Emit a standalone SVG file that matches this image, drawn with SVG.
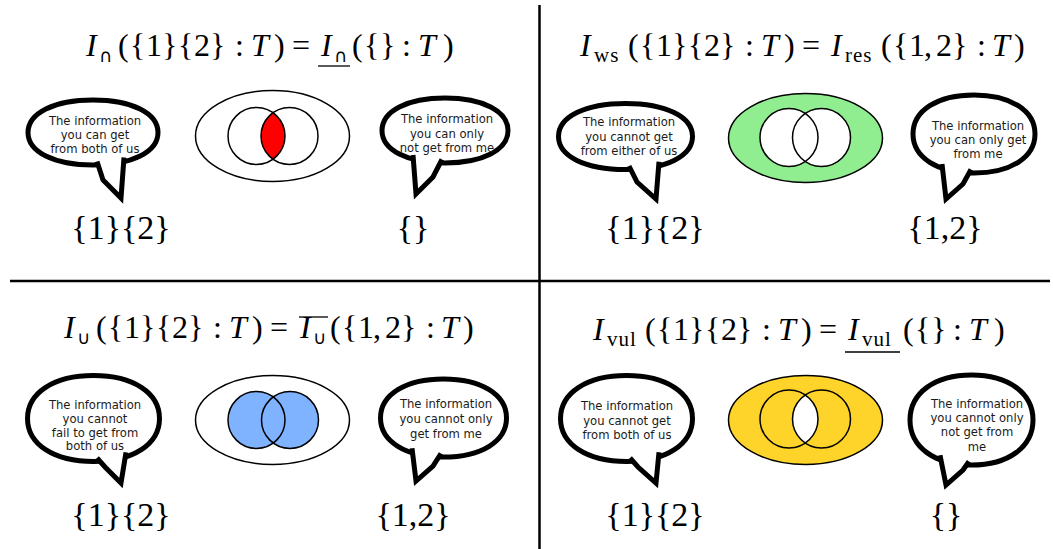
<svg xmlns="http://www.w3.org/2000/svg" width="1053" height="549" viewBox="0 0 1053 549">
<style>
.f{font-family:"Liberation Serif",serif;font-size:32px;fill:#000}
.i{font-style:italic}
.sb{font-size:21px}
.sym{font-family:"DejaVu Sans",sans-serif;font-size:18px}
.set{font-family:"Liberation Serif",serif;font-size:34px;text-anchor:middle;fill:#000}
.bt{font-family:"DejaVu Sans",sans-serif;font-size:11.6px;text-anchor:middle;fill:#1a1a1a}
.bub{fill:#fff;stroke:#000;stroke-width:5;stroke-linejoin:miter;stroke-miterlimit:6}
.ven{stroke:#000;stroke-width:1.5}
.nof{fill:none;stroke:#000;stroke-width:1.5}
.div{stroke:#000;stroke-width:2.5}
.ul{stroke:#000;stroke-width:1.3}
</style>
<g id="connectors">
<line class="div" x1="539.5" y1="5" x2="539.5" y2="549"/>
<line class="div" x1="10" y1="281" x2="1050" y2="281"/>
</g>

<!-- Top-left quadrant -->
<g id="formula-intersection">
<text class="f" y="56"><tspan class="i" x="86">I</tspan><tspan class="sym" x="99" y="62">∩</tspan><tspan x="118 130 146 162 178 194 210" y="56">({1}{2}</tspan><tspan x="235">:</tspan><tspan class="i" x="251">T</tspan><tspan x="274">)</tspan><tspan x="292">=</tspan><tspan class="i" x="321">I</tspan><tspan class="sym" x="334" y="62">∩</tspan><tspan x="352 364 380" y="56">({}</tspan><tspan x="402">:</tspan><tspan class="i" x="418">T</tspan><tspan x="443">)</tspan></text>
<line class="ul" x1="318" y1="66" x2="350" y2="66"/>
</g>
<g id="bubble-1">
<path class="bub" d="M28,132.5 C28,113 54,100 93,100 C132,100 158,113 158,132.5 C158,152 132,165 93,165 C54,165 28,152 28,132.5 Z"/>
<polyline class="bub" points="97,161.5 103,180 121,198 124,157.5"/>
<text class="bt" x="95" y="124.5">The information</text>
<text class="bt" x="95" y="139">you can get</text>
<text class="bt" x="95" y="153">from both of us</text>
</g>
<g id="venn-1">
<ellipse cx="272.5" cy="136" rx="77" ry="45.5" fill="#fff" class="ven"/>
<path d="M273,112.76 A28.5,28.5 0 0 1 273,159.24 A28.5,28.5 0 0 1 273,112.76 Z" fill="#ff0000"/>
<circle class="nof" cx="256.5" cy="136" r="28.5"/>
<circle class="nof" cx="289.5" cy="136" r="28.5"/>
</g>
<g id="bubble-2">
<path class="bub" d="M382,130.5 C382,111 407.2,98 445,98 C482.8,98 508,111 508,130.5 C508,150 482.8,163 445,163 C407.2,163 382,150 382,130.5 Z"/>
<polyline class="bub" points="413,155 416,194 433,177 442,159.5"/>
<text class="bt" x="447" y="123">The information</text>
<text class="bt" x="447" y="137.5">you can only</text>
<text class="bt" x="447" y="151.5">not get from me</text>
</g>
<g id="set-1"><text class="set" x="121" y="239">{1}{2}</text></g>
<g id="set-2"><text class="set" x="413" y="239">{}</text></g>

<!-- Top-right quadrant -->
<g id="formula-ws">
<text class="f" y="56"><tspan class="i" x="580">I</tspan><tspan class="sb" x="594" y="62" letter-spacing="1">ws</tspan><tspan x="628 640 656 672 688 704 720" y="56">({1}{2}</tspan><tspan x="745">:</tspan><tspan class="i" x="761">T</tspan><tspan x="784">)</tspan><tspan x="802">=</tspan><tspan class="i" x="831">I</tspan><tspan class="sb" x="845" y="62" letter-spacing="1">res</tspan><tspan x="881 893 909 924 936 952" y="56">({1,2}</tspan><tspan x="977">:</tspan><tspan class="i" x="992">T</tspan><tspan x="1014">)</tspan></text>
</g>
<g id="bubble-3">
<path class="bub" d="M558.5,136.5 C558.5,116.7 585.3,103.5 625.5,103.5 C665.7,103.5 692.5,116.7 692.5,136.5 C692.5,156.3 665.7,169.5 625.5,169.5 C585.3,169.5 558.5,156.3 558.5,136.5 Z"/>
<polyline class="bub" points="629,166 637,182 656,199 659,161.7"/>
<text class="bt" x="629" y="126">The information</text>
<text class="bt" x="629" y="140.5">you cannot get</text>
<text class="bt" x="629" y="155">from either of us</text>
</g>
<g id="venn-2">
<ellipse cx="805.5" cy="138" rx="77" ry="44.5" fill="#90ee90" class="ven"/>
<circle cx="789" cy="137.5" r="29" fill="#fff"/>
<circle cx="821.5" cy="137.5" r="29" fill="#fff"/>
<circle class="nof" cx="789" cy="137.5" r="29"/>
<circle class="nof" cx="821.5" cy="137.5" r="29"/>
</g>
<g id="bubble-4">
<path class="bub" d="M913,134 C913,110.6 937.4,95 974,95 C1010.6,95 1035,110.6 1035,134 C1035,157.4 1010.6,173 974,173 C937.4,173 913,157.4 913,134 Z"/>
<polyline class="bub" points="942,164 946,199 963,184 971,169.5"/>
<text class="bt" x="978" y="130">The information</text>
<text class="bt" x="978" y="144">you can only get</text>
<text class="bt" x="978" y="158">from me</text>
</g>
<g id="set-3"><text class="set" x="655" y="239">{1}{2}</text></g>
<g id="set-4"><text class="set" x="945" y="239">{1,2}</text></g>

<!-- Bottom-left quadrant -->
<g id="formula-union">
<text class="f" y="338"><tspan class="i" x="64">I</tspan><tspan class="sym" x="77" y="344">∪</tspan><tspan x="96 108 124 140 156 172 188" y="338">({1}{2}</tspan><tspan x="213">:</tspan><tspan class="i" x="229">T</tspan><tspan x="252">)</tspan><tspan x="270">=</tspan><tspan class="i" x="300">I</tspan><tspan class="sym" x="313" y="344">∪</tspan><tspan x="330 342 358 373 385 401" y="338">({1,2}</tspan><tspan x="426">:</tspan><tspan class="i" x="441">T</tspan><tspan x="463">)</tspan></text>
<line class="ul" x1="299" y1="317" x2="328" y2="317"/>
</g>
<g id="bubble-5">
<path class="bub" d="M27.5,418.5 C27.5,392.7 53.9,375.5 93.5,375.5 C133.1,375.5 159.5,392.7 159.5,418.5 C159.5,444.3 133.1,461.5 93.5,461.5 C53.9,461.5 27.5,444.3 27.5,418.5 Z"/>
<polyline class="bub" points="97,458 105,467 121,483 126,452.3"/>
<text class="bt" x="95" y="408.5">The information</text>
<text class="bt" x="95" y="422.5">you cannot</text>
<text class="bt" x="95" y="436.5">fail to get from</text>
<text class="bt" x="95" y="450">both of us</text>
</g>
<g id="venn-3">
<ellipse cx="272.5" cy="420" rx="77" ry="44.5" fill="#fff" class="ven"/>
<circle cx="256.5" cy="420" r="28.5" fill="#80b3ff"/>
<circle cx="290" cy="420" r="28.5" fill="#80b3ff"/>
<circle class="nof" cx="256.5" cy="420" r="28.5"/>
<circle class="nof" cx="290" cy="420" r="28.5"/>
</g>
<g id="bubble-6">
<path class="bub" d="M380.5,418 C380.5,394.6 405.7,379 443.5,379 C481.3,379 506.5,394.6 506.5,418 C506.5,441.4 481.3,457 443.5,457 C405.7,457 380.5,441.4 380.5,418 Z"/>
<polyline class="bub" points="412,448.3 416,481 433,466 441,453.5"/>
<text class="bt" x="446" y="408">The information</text>
<text class="bt" x="446" y="423">you cannot only</text>
<text class="bt" x="446" y="438">get from me</text>
</g>
<g id="set-5"><text class="set" x="121" y="526">{1}{2}</text></g>
<g id="set-6"><text class="set" x="413" y="526">{1,2}</text></g>

<!-- Bottom-right quadrant -->
<g id="formula-vul">
<text class="f" y="340"><tspan class="i" x="593">I</tspan><tspan class="sb" x="607" y="346" letter-spacing="1">vul</tspan><tspan x="645 657 673 689 705 721 737" y="340">({1}{2}</tspan><tspan x="762">:</tspan><tspan class="i" x="778">T</tspan><tspan x="801">)</tspan><tspan x="819">=</tspan><tspan class="i" x="848">I</tspan><tspan class="sb" x="862" y="346" letter-spacing="1">vul</tspan><tspan x="903 915 931" y="340">({}</tspan><tspan x="953">:</tspan><tspan class="i" x="969">T</tspan><tspan x="994">)</tspan></text>
<line class="ul" x1="845" y1="352" x2="900" y2="352"/>
</g>
<g id="bubble-7">
<path class="bub" d="M560.5,418.5 C560.5,392.7 586.9,375.5 626.5,375.5 C666.1,375.5 692.5,392.7 692.5,418.5 C692.5,444.3 666.1,461.5 626.5,461.5 C586.9,461.5 560.5,444.3 560.5,418.5 Z"/>
<polyline class="bub" points="630,458 638,467 656,483 659,452.3"/>
<text class="bt" x="627" y="410">The information</text>
<text class="bt" x="627" y="424.5">you cannot get</text>
<text class="bt" x="627" y="438.5">from both of us</text>
</g>
<g id="venn-4">
<ellipse cx="805.5" cy="420" rx="77" ry="44.5" fill="#ffd42a" class="ven"/>
<path d="M805.25,394.98 A29,29 0 0 1 805.25,443.02 A29,29 0 0 1 805.25,394.98 Z" fill="#fff"/>
<circle class="nof" cx="789" cy="419" r="29"/>
<circle class="nof" cx="821.5" cy="419" r="29"/>
</g>
<g id="bubble-8">
<path class="bub" d="M910,420 C910,393 934.6,375 971.5,375 C1008.4,375 1033,393 1033,420 C1033,447 1008.4,465 971.5,465 C934.6,465 910,447 910,420 Z"/>
<polyline class="bub" points="940,455.3 946,485 963,470 969,461.5"/>
<text class="bt" x="977" y="408">The information</text>
<text class="bt" x="977" y="422">you cannot only</text>
<text class="bt" x="977" y="436">not get from</text>
<text class="bt" x="977" y="450.5">me</text>
</g>
<g id="set-7"><text class="set" x="655" y="526">{1}{2}</text></g>
<g id="set-8"><text class="set" x="946" y="526">{}</text></g>
</svg>
